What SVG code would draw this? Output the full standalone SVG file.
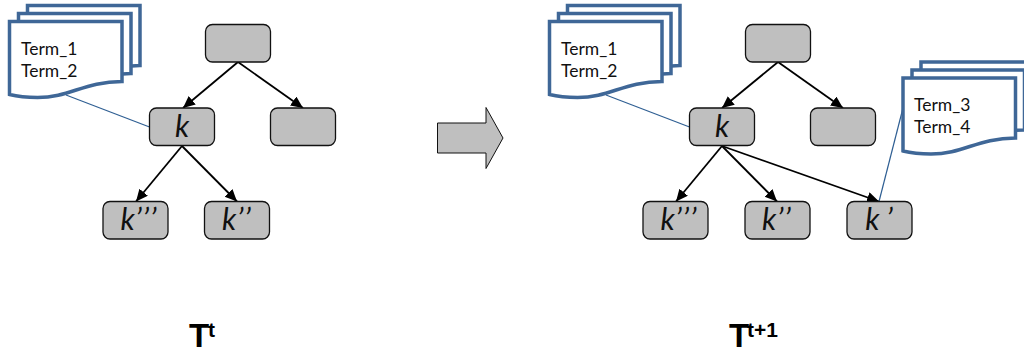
<svg xmlns="http://www.w3.org/2000/svg" width="1024" height="352" viewBox="0 0 1024 352">
<style>
.n{fill:#bfbfbf;stroke:#111;stroke-width:1.3}
.d{fill:#fff;stroke:#3f6797;stroke-width:3.5}
.e{stroke:#000;stroke-width:1.8;fill:none;marker-end:url(#a)}
.l{stroke:#2f5f93;stroke-width:1.2;fill:none}
.k{font:italic 30px Lato,"Open Sans",sans-serif;fill:#111;text-anchor:middle}
.p{letter-spacing:1.200px}
.t{font:17.500px Lato,"Open Sans",sans-serif;fill:#111}
.h{font:bold 33px "Liberation Sans",Arial,sans-serif;fill:#000}
.s{font:bold 21px "Liberation Sans",Arial,sans-serif;fill:#000}
</style>
<defs>
<marker id="a" markerUnits="userSpaceOnUse" markerWidth="13" markerHeight="12" refX="12" refY="5.500" orient="auto"><path d="M0 0L12 5.500L0 11z" fill="#000"/></marker>
<path id="doc" d="M0 0H112.500V60C75 60 60 76 28 76C14 76 8 75 0 73z"/>
</defs>
<g id="connectors">
<path class="l" d="M66 95L149.500 127"/>
<path class="e" d="M238 62L183 108"/>
<path class="e" d="M238 62L303 108"/>
<path class="e" d="M182 146L136 201.500"/>
<path class="e" d="M182 146L237 201.500"/>
<path class="l" d="M606 95L689.500 127"/>
<path class="e" d="M778 62L722 108"/>
<path class="e" d="M778 62L843 108"/>
<path class="e" d="M722 146L676 201.500"/>
<path class="e" d="M722 146L777 201.500"/>
<path class="e" d="M722 146L879 201.500"/>
<path class="l" d="M903 108L879 201.500"/>
</g>
<g id="doc1"><use href="#doc" x="27.500" y="5.500" class="d"/><use href="#doc" x="18.500" y="13.500" class="d"/><use href="#doc" x="9.500" y="21.500" class="d"/><text class="t" x="21" y="54.500">Term_1</text><text class="t" x="21" y="76.500">Term_2</text></g>
<g id="doc2"><use href="#doc" x="567.500" y="5.500" class="d"/><use href="#doc" x="558.500" y="13.500" class="d"/><use href="#doc" x="549.500" y="21.500" class="d"/><text class="t" x="561" y="54.500">Term_1</text><text class="t" x="561" y="76.500">Term_2</text></g>
<g id="doc3"><use href="#doc" x="921" y="62" class="d"/><use href="#doc" x="912" y="70" class="d"/><use href="#doc" x="903" y="78" class="d"/><text class="t" x="914" y="110.500">Term_3</text><text class="t" x="914" y="132.500">Term_4</text></g>
<g id="l-root"><rect class="n" x="205.500" y="24.500" width="65" height="37.500" rx="7"/></g>
<g id="l-k"><rect class="n" x="149.500" y="108" width="65" height="37.500" rx="7"/><text class="k" x="182" y="137">k</text></g>
<g id="l-right"><rect class="n" x="270.500" y="108" width="65" height="37.500" rx="7"/></g>
<g id="l-k3"><rect class="n" x="103" y="201.500" width="65" height="37.500" rx="7"/><text class="k p" x="139" y="230">k’’’</text></g>
<g id="l-k2"><rect class="n" x="204.500" y="201.500" width="65" height="37.500" rx="7"/><text class="k p" x="237" y="230">k’’</text></g>
<g id="r-root"><rect class="n" x="745.500" y="24.500" width="65" height="37.500" rx="7"/></g>
<g id="r-k"><rect class="n" x="689.500" y="108" width="65" height="37.500" rx="7"/><text class="k" x="722" y="137">k</text></g>
<g id="r-right"><rect class="n" x="810.500" y="108" width="65" height="37.500" rx="7"/></g>
<g id="r-k3"><rect class="n" x="643" y="201.500" width="65" height="37.500" rx="7"/><text class="k p" x="679" y="230">k’’’</text></g>
<g id="r-k2"><rect class="n" x="745" y="201.500" width="65" height="37.500" rx="7"/><text class="k p" x="777" y="230">k’’</text></g>
<g id="r-k1"><rect class="n" x="847" y="201.500" width="65" height="37.500" rx="7"/><text class="k" x="879" y="230">k ’</text></g>
<g id="arrow"><path class="n" d="M437.500 123H486V107.500L503 138L486 168.500V153H437.500z" style="stroke-width:1"/></g>
<g id="title-l"><text class="h" x="189" y="347">T</text><text class="s" x="208" y="337">t</text></g>
<g id="title-r"><text class="h" x="729" y="347">T</text><text class="s" x="747" y="337">t+1</text></g>
</svg>
